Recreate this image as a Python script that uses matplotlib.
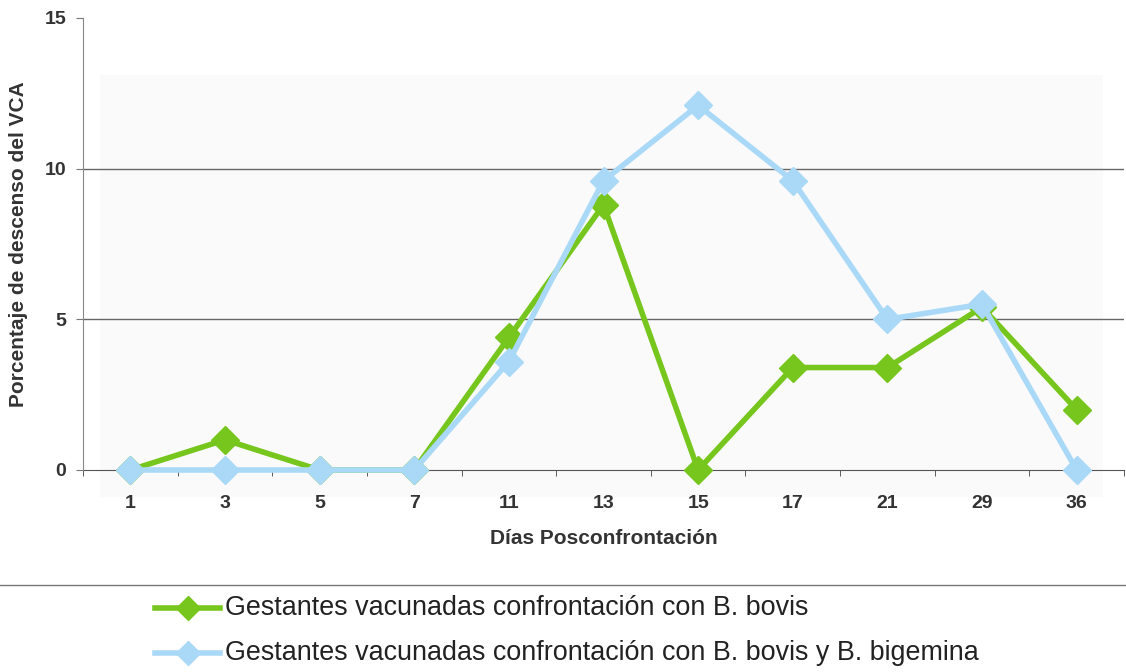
import matplotlib
matplotlib.use("Agg")
import matplotlib.pyplot as plt
from matplotlib.lines import Line2D
from matplotlib.patches import Rectangle

plt.rcParams['font.family'] = ['Liberation Sans', 'DejaVu Sans']

dias = ["1", "3", "5", "7", "11", "13", "15", "17", "21", "29", "36"]
bovis = [0, 1.0, 0, 0, 4.4, 8.8, 0, 3.4, 3.4, 5.4, 2.0]
bovis_bigemina = [0, 0, 0, 0, 3.6, 9.6, 12.1, 9.6, 5.0, 5.5, 0]
yticks = [0, 5, 10, 15]

label_bovis = "Gestantes vacunadas confrontación con B. bovis"
label_both = "Gestantes vacunadas confrontación con B. bovis y B. bigemina"

green = "#76c61e"
blue = "#a9d9f7"
text_col = "#333333"

W, H = 1126, 672
fig = plt.figure(figsize=(W / 100, H / 100), dpi=100)

ax = fig.add_axes([83 / W, 1 - 470 / H, (1124 - 83) / W, (470 - 18) / H])
ax.set_facecolor("none")

# faint shaded panel behind the plot
ax.add_patch(Rectangle((100 / W, 1 - 497 / H), (1103 - 100) / W, (497 - 75) / H,
                       transform=fig.transFigure, facecolor="#fafafa",
                       edgecolor="none", zorder=0, clip_on=False))

x = list(range(len(dias)))

ax.plot(x, bovis, color=green, lw=4, marker="D", ms=14, mfc=green, mec=green,
        zorder=3, clip_on=False)
ax.plot(x, bovis_bigemina, color=blue, lw=4, marker="D", ms=14, mfc=blue, mec=blue,
        zorder=4, clip_on=False)

ax.set_xlim(-0.5, len(dias) - 0.5)
ax.set_ylim(0, 15)
ax.set_yticks(yticks)
ax.set_yticklabels([str(v) for v in yticks], fontsize=14, fontweight="bold", color=text_col)
ax.set_xticks(x)
ax.set_xticklabels(dias, fontsize=14, fontweight="bold", color=text_col)
ax.tick_params(axis="x", length=0, pad=18)
ax.set_xticks([i + 0.5 for i in range(-1, len(dias))], minor=True)
ax.tick_params(axis="x", which="minor", length=4, direction="out", color="#444444")
ax.tick_params(axis="y", length=5, color="#777777", pad=7)

for v in [5, 10]:
    ax.axhline(v, color="#666666", lw=1, zorder=1)

for s in ["top", "right"]:
    ax.spines[s].set_visible(False)
ax.spines["left"].set_color("#888888")
ax.spines["bottom"].set_color("#555555")
ax.spines["bottom"].set_zorder(2)

ax.set_xlabel("Días Posconfrontación", fontsize=15, fontweight="bold", color=text_col,
              labelpad=12)
ax.set_ylabel("Porcentaje de descenso del VCA", fontsize=15, fontweight="bold",
              color=text_col, labelpad=12)

# separator above the legend
fig.add_artist(Line2D([0, 1], [1 - 585 / H, 1 - 585 / H], transform=fig.transFigure,
                      color="#777777", lw=1))

# legend entries
for ypix, col, lab in [(608, green, label_bovis), (653, blue, label_both)]:
    yf = 1 - ypix / H
    fig.add_artist(Line2D([155 / W, 220 / W], [yf, yf], transform=fig.transFigure,
                          color=col, lw=4))
    fig.add_artist(Line2D([188 / W], [yf], transform=fig.transFigure, marker="D",
                          ms=12, color=col, lw=0))
    fig.text(225 / W, yf, lab, fontsize=19.4, color="#222222", va="center", ha="left")

fig.savefig("out.png", dpi=100)
